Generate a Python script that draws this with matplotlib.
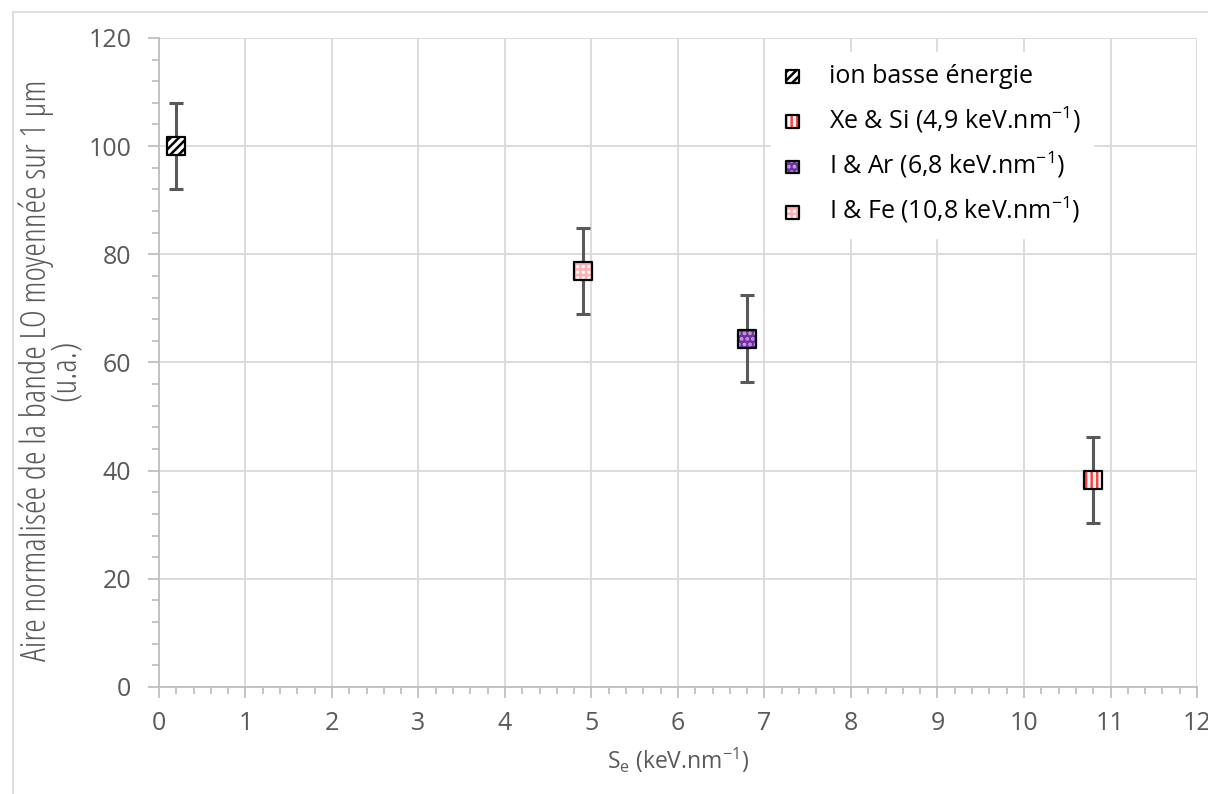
import matplotlib.pyplot as plt
from matplotlib.legend_handler import HandlerTuple
from matplotlib.ticker import MultipleLocator
from matplotlib.lines import Line2D

plt.rcParams['font.family'] = ['Open Sans', 'DejaVu Sans']
plt.rcParams['mathtext.fontset'] = 'custom'
plt.rcParams['mathtext.rm'] = 'Open Sans'
plt.rcParams['mathtext.it'] = 'Open Sans'
plt.rcParams['hatch.linewidth'] = 1.8

# donnees
se = [0.2, 4.9, 6.8, 10.8]
aire = [100.0, 76.9, 64.4, 38.3]
erreur = [8.0, 8.0, 8.0, 8.0]
# textes de la legende (dans l'ordre de la legende)
etiquettes = ['ion basse énergie',
              'Xe & Si (4,9 keV.nm$^{-1}$)',
              'I & Ar (6,8 keV.nm$^{-1}$)',
              'I & Fe (10,8 keV.nm$^{-1}$)']

# style des marqueurs, dans l'ordre des points
fonds = ['white', 'white', '#7030a0', 'white']
hachures = ['////', '+++', '...', '|||']
couleurs_hachure = ['black', '#ffb0b0', '#c9a6e6', '#ff4040']
# quel point porte le marqueur montre pour chaque ligne de la legende
ordre_legende = [0, 3, 2, 1]

fig = plt.figure(figsize=(12.08, 7.94), dpi=100)
ax = fig.add_axes([0.1316, 0.1348, 0.8593, 0.8174])

ax.errorbar(se, aire, yerr=erreur, fmt='none', ecolor='#595959',
            elinewidth=2.2, capsize=5, capthick=2.2, zorder=3)

poignees = []
for i in range(len(se)):
    h1 = ax.scatter([se[i]], [aire[i]], marker='s', s=165, facecolor=fonds[i],
                    edgecolor=couleurs_hachure[i], hatch=hachures[i],
                    linewidths=0, zorder=4)
    h2 = ax.scatter([se[i]], [aire[i]], marker='s', s=165, facecolor='none',
                    edgecolor='black', linewidths=1.6, zorder=5)
    poignees.append((h1, h2))

ax.set_xlim(0, 12)
ax.set_ylim(0, 120)
ax.xaxis.set_major_locator(MultipleLocator(1))
ax.xaxis.set_minor_locator(MultipleLocator(0.2))
ax.yaxis.set_major_locator(MultipleLocator(20))
ax.yaxis.set_minor_locator(MultipleLocator(4))
ax.grid(True, which='major', color='#d9d9d9', linewidth=1.3, zorder=0)
ax.set_axisbelow(True)

for s in ['top', 'right']:
    ax.spines[s].set_visible(False)
ax.spines['left'].set_color('#bfbfbf')
ax.spines['bottom'].set_color('#bfbfbf')
ax.spines['left'].set_linewidth(1.3)
ax.spines['bottom'].set_linewidth(1.3)

ax.tick_params(axis='both', which='major', labelsize=18, colors='#bfbfbf',
               labelcolor='#595959', length=8, width=1.3)
ax.tick_params(axis='both', which='minor', colors='#bfbfbf', length=5, width=1.3)
ax.tick_params(axis='x', which='major', pad=9)
ax.tick_params(axis='y', which='major', pad=12)

ax.set_xlabel(r'S$_\mathrm{e}$ (keV.nm$^{-1}$)', fontsize=16.5, color='#595959',
              labelpad=7)
ax.set_ylabel('Aire normalisée de la bande LO moyennée sur 1 µm\n(u.a.)',
              fontsize=25, color='#595959', linespacing=0.8,
              fontstretch='condensed')
ax.yaxis.set_label_coords(-0.073, 0.488)

leg = ax.legend([poignees[i] for i in ordre_legende], etiquettes,
                handler_map={tuple: HandlerTuple(ndivide=1, pad=0)},
                loc='upper right', bbox_to_anchor=(0.912, 0.998),
                fontsize=18, frameon=True, fancybox=False, framealpha=1,
                edgecolor='white', handlelength=0.7, handletextpad=1.1,
                labelspacing=0.6, borderpad=0.5, markerscale=0.7)
for t in leg.get_texts():
    t.set_color('black')

# cadre gris clair de la zone du graphique
fig.add_artist(Line2D([0.011, 0.011], [0, 0.985], color='#d9d9d9', lw=1.2))
fig.add_artist(Line2D([0.011, 1], [0.985, 0.985], color='#d9d9d9', lw=1.2))

fig.savefig('out.png', dpi=100)
